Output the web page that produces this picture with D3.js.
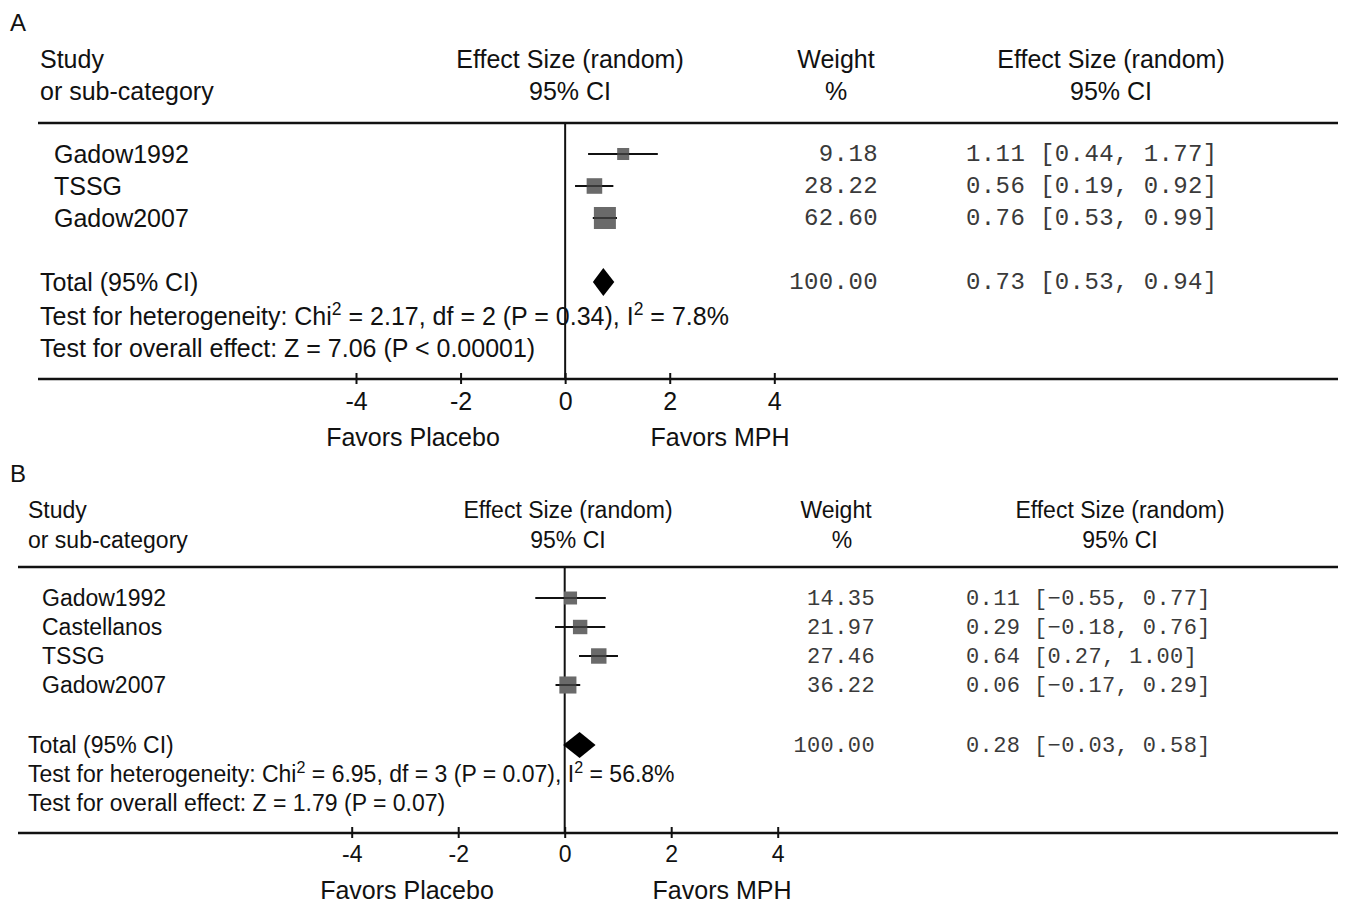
<!DOCTYPE html>
<html>
<head>
<meta charset="utf-8">
<script src="https://cdnjs.cloudflare.com/ajax/libs/d3/7.8.5/d3.min.js"></script>
<style>
  body { margin: 0; background: #fff; }
  svg { display: block; }
  text { font-family: "Liberation Sans", Arial, sans-serif; fill: #111; }
  .mono { font-family: "Liberation Mono", "Courier New", monospace; fill: #3a3a3a; }
</style>
</head>
<body>
<svg id="chart" width="1356" height="906"></svg>
<script>
// ---- panel A data ----
var studiesA = ["Gadow1992", "TSSG", "Gadow2007"];
var esA      = [1.11, 0.56, 0.76];
var lowA     = [0.44, 0.19, 0.53];
var highA    = [1.77, 0.92, 0.99];
var weightA  = [9.18, 28.22, 62.60];
var totalA   = [0.73, 0.53, 0.94];   // es, low, high
var hetA     = ["Test for heterogeneity: Chi", " = 2.17, df = 2 (P = 0.34), I", " = 7.8%"];
var overallA = "Test for overall effect: Z = 7.06 (P < 0.00001)";

// ---- panel B data ----
var studiesB = ["Gadow1992", "Castellanos", "TSSG", "Gadow2007"];
var esB      = [0.11, 0.29, 0.64, 0.06];
var lowB     = [-0.55, -0.18, 0.27, -0.17];
var highB    = [0.77, 0.76, 1.00, 0.29];
var weightB  = [14.35, 21.97, 27.46, 36.22];
var totalB   = [0.28, -0.03, 0.58];
var hetB     = ["Test for heterogeneity: Chi", " = 6.95, df = 3 (P = 0.07), I", " = 56.8%"];
var overallB = "Test for overall effect: Z = 1.79 (P = 0.07)";

var tickValues = [-4, -2, 0, 2, 4];
var favorLabels = ["Favors Placebo", "Favors MPH"];

var svg = d3.select("#chart");
var f2 = d3.format(".2f");

// box size grows with weight (same scale for both panels)
var boxSize = d3.scaleLinear().domain([0, 100]).range([10.3, 29]);

function drawPanel(p) {
  var g = svg.append("g");
  var x = d3.scaleLinear().domain([-4, 4]).range(p.xRange);
  var x0 = x(0);

  g.append("text").attr("x", 10).attr("y", p.labelY).attr("font-size", 24).text(p.label);

  // headers
  var hdr = [
    [p.studyX, "start", "Study", "or sub-category"],
    [p.esHeadX, "middle", "Effect Size (random)", "95% CI"],
    [p.wHeadX, "middle", "Weight", "%"],
    [p.ciHeadX, "middle", "Effect Size (random)", "95% CI"]
  ];
  hdr.forEach(function(h, i) {
    g.append("text").attr("x", h[0]).attr("y", p.head1 + p.fs * 0.36)
      .attr("text-anchor", h[1]).attr("font-size", p.fs).text(h[2]);
    g.append("text").attr("x", (i == 2 ? p.pctX : h[0])).attr("y", p.head2 + p.fs * 0.36)
      .attr("text-anchor", h[1]).attr("font-size", p.fs).text(h[3]);
  });

  // rules
  g.append("line").attr("x1", p.ruleX).attr("x2", 1338).attr("y1", p.topY).attr("y2", p.topY)
    .attr("stroke", "#111").attr("stroke-width", 2.5);
  g.append("line").attr("x1", p.ruleX).attr("x2", 1338).attr("y1", p.axisY).attr("y2", p.axisY)
    .attr("stroke", "#111").attr("stroke-width", 2.5);
  g.append("line").attr("x1", x0).attr("x2", x0).attr("y1", p.topY).attr("y2", p.axisY)
    .attr("stroke", "#111").attr("stroke-width", 2);

  var y = d3.scaleLinear().domain([0, 1]).range([p.row0, p.row0 + p.rowStep]);

  // study rows
  p.studies.forEach(function(s, i) {
    var yy = y(i);
    g.append("text").attr("x", p.rowX).attr("y", yy + p.fs * 0.36).attr("font-size", p.fs).text(s);
    g.append("line").attr("x1", x(p.low[i])).attr("x2", x(p.high[i])).attr("y1", yy).attr("y2", yy)
      .attr("stroke", "#111").attr("stroke-width", 2);
    var b = boxSize(p.weight[i]);
    g.append("rect").attr("x", x(p.es[i]) - b / 2).attr("y", yy - b / 2).attr("width", b).attr("height", b)
      .attr("fill", "#6a6a6a");
    g.append("line").attr("x1", x(p.low[i])).attr("x2", x(p.high[i])).attr("y1", yy).attr("y2", yy)
      .attr("stroke", "#111").attr("stroke-width", 2).attr("opacity", 0.55);
    g.append("text").attr("class", "mono").attr("x", p.wRight).attr("y", yy + p.mfs * 0.3)
      .attr("text-anchor", "end").attr("font-size", p.mfs).attr("letter-spacing", p.ls)
      .text(f2(p.weight[i]));
    g.append("text").attr("class", "mono").attr("x", p.ciX).attr("y", yy + p.mfs * 0.3)
      .attr("font-size", p.mfs).attr("letter-spacing", p.ls)
      .text(f2(p.es[i]) + " [" + f2(p.low[i]) + ", " + f2(p.high[i]) + "]");
  });

  // total row
  var ty = p.totalY;
  g.append("text").attr("x", p.studyX).attr("y", ty + p.fs * 0.36).attr("font-size", p.fs).text("Total (95% CI)");
  var t = p.total, dh = p.diamondH / 2;
  g.append("path")
    .attr("d", d3.line()([[x(t[1]), ty], [x(t[0]), ty - dh], [x(t[2]), ty], [x(t[0]), ty + dh]]) + "Z")
    .attr("fill", "#000");
  g.append("text").attr("class", "mono").attr("x", p.wRight).attr("y", ty + p.mfs * 0.3)
    .attr("text-anchor", "end").attr("font-size", p.mfs).attr("letter-spacing", p.ls).text("100.00");
  g.append("text").attr("class", "mono").attr("x", p.ciX).attr("y", ty + p.mfs * 0.3)
    .attr("font-size", p.mfs).attr("letter-spacing", p.ls)
    .text(f2(t[0]) + " [" + f2(t[1]) + ", " + f2(t[2]) + "]");

  // tests
  var het = g.append("text").attr("x", p.studyX).attr("y", p.hetY + p.fs * 0.36).attr("font-size", p.fs);
  het.append("tspan").text(p.het[0]);
  het.append("tspan").attr("dy", -p.fs * 0.42).attr("font-size", p.fs * 0.7).text("2");
  het.append("tspan").attr("dy", p.fs * 0.42).text(p.het[1]);
  het.append("tspan").attr("dy", -p.fs * 0.42).attr("font-size", p.fs * 0.7).text("2");
  het.append("tspan").attr("dy", p.fs * 0.42).text(p.het[2]);
  g.append("text").attr("x", p.studyX).attr("y", p.ovY + p.fs * 0.36).attr("font-size", p.fs).text(p.overall);

  // axis
  var ax = g.append("g").attr("transform", "translate(0," + p.axisY + ")")
    .call(d3.axisBottom(x).tickValues(tickValues).tickSize(5).tickPadding(8).tickFormat(d3.format("d")));
  ax.select(".domain").remove();
  ax.selectAll(".tick line").attr("y1", -6).attr("y2", 5).attr("stroke", "#111").attr("stroke-width", 2);
  ax.selectAll(".tick text").attr("font-size", p.fs).attr("font-family", "Liberation Sans, Arial, sans-serif")
    .attr("fill", "#111").text(function(d) { return d < 0 ? "-" + Math.abs(d) : d; });

  g.append("text").attr("x", p.favX[0]).attr("y", p.favY + 9).attr("text-anchor", "middle")
    .attr("font-size", 25).text(favorLabels[0]);
  g.append("text").attr("x", p.favX[1]).attr("y", p.favY + 9).attr("text-anchor", "middle")
    .attr("font-size", 25).text(favorLabels[1]);
}

drawPanel({
  label: "A", labelY: 31, fs: 25, mfs: 24, ls: 0.4,
  studies: studiesA, es: esA, low: lowA, high: highA, weight: weightA, total: totalA,
  het: hetA, overall: overallA,
  xRange: [356, 774.3],
  studyX: 40, rowX: 54, ruleX: 38,
  esHeadX: 570, wHeadX: 836, pctX: 836, ciHeadX: 1111,
  head1: 59, head2: 91, topY: 123, axisY: 379,
  row0: 154, rowStep: 32, totalY: 282, hetY: 316, ovY: 348,
  diamondH: 28, wRight: 878, ciX: 966,
  favX: [413, 720], favY: 437
});

drawPanel({
  label: "B", labelY: 482, fs: 23, mfs: 22, ls: 0.4,
  studies: studiesB, es: esB, low: lowB, high: highB, weight: weightB, total: totalB,
  het: hetB, overall: overallB,
  xRange: [351.7, 777.7],
  studyX: 28, rowX: 42, ruleX: 18,
  esHeadX: 568, wHeadX: 836, pctX: 842, ciHeadX: 1120,
  head1: 510, head2: 540, topY: 567, axisY: 833,
  row0: 598, rowStep: 29, totalY: 745, hetY: 774, ovY: 803,
  diamondH: 26, wRight: 875, ciX: 966,
  favX: [407, 722], favY: 890
});
</script>
</body>
</html>
